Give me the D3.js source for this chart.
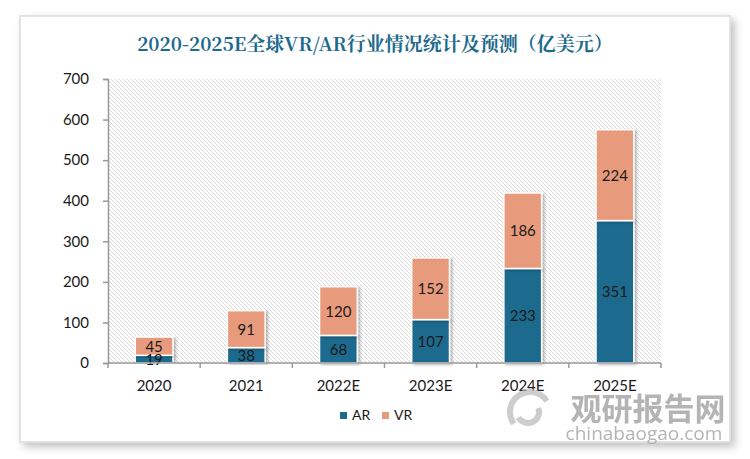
<!DOCTYPE html>
<html><head><meta charset="utf-8">
<script src="https://cdn.jsdelivr.net/npm/d3@7"></script>
<style>body{margin:0;background:#fff}</style>
</head><body>
<svg id="c" width="750" height="459"></svg>
<script>
const categories = ["2020","2021","2022E","2023E","2024E","2025E"];
const arValues = [19,38,68,107,233,351];
const vrValues = [45,91,120,152,186,224];
const yTicks = [0,100,200,300,400,500,600,700];
const seriesNames = ["AR","VR"];
const colors = {AR:"#1d6a8d", VR:"#e89b7b"};

const svg = d3.select("#c");
const defs = svg.append("defs");
const f = defs.append("filter").attr("id","sh").attr("x","-5%").attr("y","-5%").attr("width","115%").attr("height","115%");
f.append("feGaussianBlur").attr("in","SourceAlpha").attr("stdDeviation",4);
f.append("feOffset").attr("dx",4).attr("dy",4).attr("result","o");
f.append("feComponentTransfer").append("feFuncA").attr("type","linear").attr("slope",0.25);
const m = f.append("feMerge"); m.append("feMergeNode"); m.append("feMergeNode").attr("in","SourceGraphic");
const bf = defs.append("filter").attr("id","bsh").attr("x","-20%").attr("y","-5%").attr("width","150%").attr("height","115%");
bf.append("feGaussianBlur").attr("in","SourceAlpha").attr("stdDeviation",1.5);
bf.append("feOffset").attr("dx",2).attr("dy",1);
bf.append("feComponentTransfer").append("feFuncA").attr("type","linear").attr("slope",0.3);
const bm = bf.append("feMerge"); bm.append("feMergeNode"); bm.append("feMergeNode").attr("in","SourceGraphic");
const pat = defs.append("pattern").attr("id","hatch").attr("patternUnits","userSpaceOnUse").attr("width",4).attr("height",4);
pat.append("rect").attr("width",4).attr("height",4).attr("fill","#fff");
pat.append("path").attr("d","M-1,-1 L5,5 M-1,3 L1,5 M3,-1 L5,1").attr("stroke","#dadada").attr("stroke-width",1);

svg.append("rect").attr("x",20).attr("y",16).attr("width",710).attr("height",426)
  .attr("fill","#fff").attr("stroke","#dcdcdc").attr("stroke-width",1.5).attr("filter","url(#sh)");

const L=108, R=661, T=79, B=363;
const x = d3.scaleBand().domain(categories).range([L,R]).paddingInner(0.59).paddingOuter(0.295);
const y = d3.scaleLinear().domain([0,700]).range([B,T]);

svg.append("rect").attr("x",L).attr("y",T).attr("width",R-L).attr("height",B-T).attr("fill","url(#hatch)");

svg.append("text").attr("x",375).attr("y",51).attr("text-anchor","middle")
  .attr("font-family","'Noto Serif CJK SC','Noto Sans CJK SC',serif").attr("font-weight","bold")
  .attr("font-size",19).attr("fill","#1d6a8d")
  .text("2020-2025E全球VR/AR行业情况统计及预测（亿美元）");

const data = categories.map((c,i)=>({cat:c, AR:arValues[i], VR:vrValues[i]}));
const stack = d3.stack().keys(seriesNames)(data);

const font = "Lato, 'Open Sans', sans-serif";
stack.forEach(s=>{
  const g = svg.append("g");
  g.selectAll("rect").data(s).join("rect")
    .attr("x",d=>x(d.data.cat)).attr("width",x.bandwidth())
    .attr("y",d=>y(d[1])).attr("height",d=>y(d[0])-y(d[1]))
    .attr("fill",colors[s.key]).attr("stroke","#fff").attr("stroke-width",1.5).attr("filter","url(#bsh)");
});
stack.forEach(s=>{
  svg.append("g").selectAll("text").data(s).join("text")
    .attr("x",d=>x(d.data.cat)+x.bandwidth()/2)
    .attr("y",d=>(y(d[0])+y(d[1]))/2+5.5)
    .attr("text-anchor","middle").attr("font-family",font).attr("font-size",15).attr("fill","#1a1a1a")
    .text(d=>d[1]-d[0]);
});

const ya = svg.append("g").attr("transform",`translate(${L},0)`)
  .call(d3.axisLeft(y).tickValues(yTicks).tickSize(5).tickPadding(14));
ya.select(".domain").attr("stroke","#999").attr("stroke-width",1.5);
ya.selectAll(".tick line").attr("stroke","#999").attr("stroke-width",1.5);
ya.selectAll("text").attr("font-family",font).attr("font-size",15).attr("fill","#1a1a1a");

const xa = svg.append("g").attr("transform",`translate(0,${B})`);
xa.append("line").attr("x1",L).attr("x2",R).attr("stroke","#999").attr("stroke-width",1.5);
const step = (R-L)/categories.length;
xa.selectAll("line.t").data(d3.range(categories.length+1)).join("line").attr("class","t")
  .attr("x1",i=>L+i*step).attr("x2",i=>L+i*step).attr("y1",0).attr("y2",5).attr("stroke","#999").attr("stroke-width",1.5);
xa.selectAll("text").data(categories).join("text")
  .attr("x",d=>x(d)+x.bandwidth()/2).attr("y",28).attr("text-anchor","middle")
  .attr("font-family",font).attr("font-size",15).attr("fill","#1a1a1a").text(d=>d);

// watermark
svg.append("text").attr("x",648).attr("y",420).attr("text-anchor","middle")
  .attr("font-family","'Noto Sans CJK SC',sans-serif").attr("font-weight","bold").attr("font-size",31)
  .attr("fill","#a8a8a8").attr("opacity",0.85).text("观研报告网");
svg.append("text").attr("x",644).attr("y",440).attr("text-anchor","middle")
  .attr("font-family","'Open Sans',sans-serif").attr("font-size",19)
  .attr("fill","#a8a8a8").attr("opacity",0.85).text("chinabaogao.com");
const lg = svg.append("g").attr("fill","none").attr("stroke","#b8b8b8").attr("stroke-width",6).attr("opacity",0.7);
lg.append("path").attr("d",d3.arc()({innerRadius:20,outerRadius:20,startAngle:-2.2,endAngle:1.0})).attr("transform","translate(530,412)");
lg.append("path").attr("d",d3.arc()({innerRadius:11,outerRadius:11,startAngle:1.2,endAngle:4.2})).attr("transform","translate(528,412)");

// legend
const leg = svg.append("g");
seriesNames.forEach((n,i)=>{
  const lx = 340 + i*42;
  leg.append("rect").attr("x",lx).attr("y",412).attr("width",7).attr("height",7).attr("fill",colors[n]);
  leg.append("text").attr("x",lx+12).attr("y",420).attr("font-family",font).attr("font-size",14).attr("fill","#1a1a1a").text(n);
});
</script>
</body></html>
